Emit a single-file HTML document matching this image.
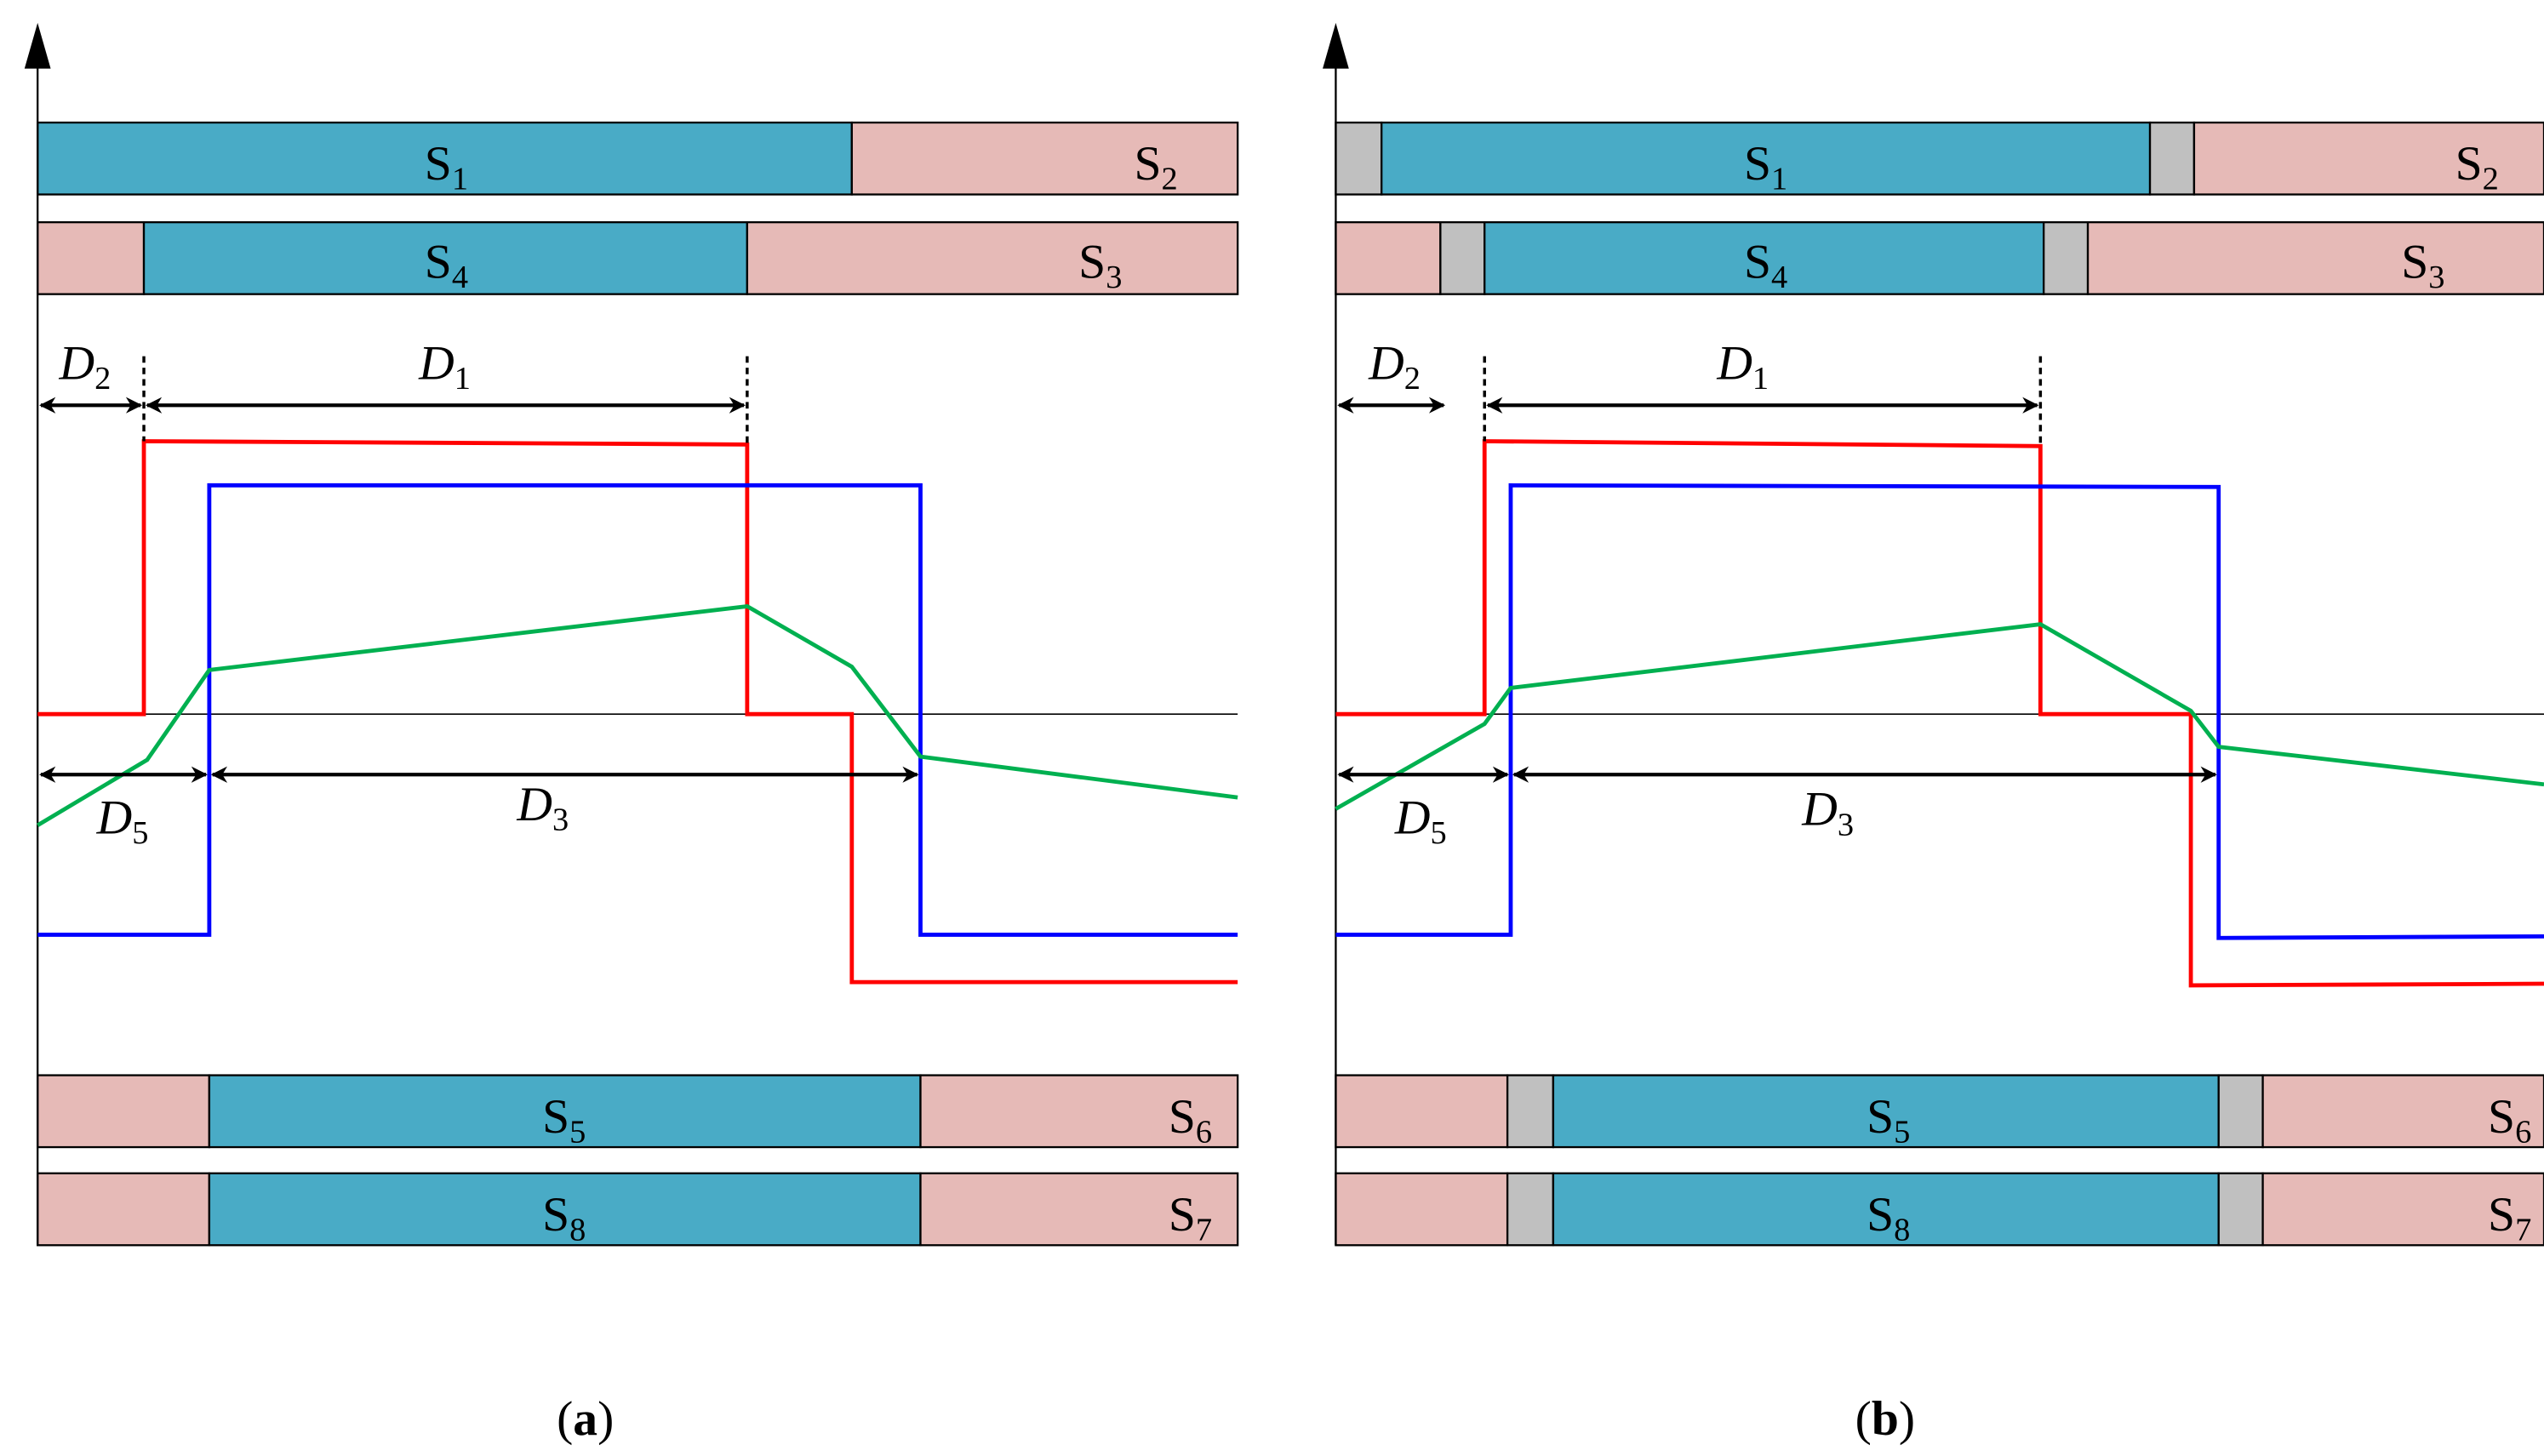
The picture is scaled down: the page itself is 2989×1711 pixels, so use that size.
<!DOCTYPE html>
<html><head><meta charset="utf-8"><style>html,body{margin:0;padding:0;background:#fff}svg{display:block}</style></head><body>
<svg width="2989" height="1711" viewBox="0 0 1556 891" preserveAspectRatio="none" xmlns="http://www.w3.org/2000/svg" font-family="Liberation Serif, serif">
<defs>
<marker id="ah" markerWidth="10" markerHeight="10" refX="9" refY="5" orient="auto-start-reverse" markerUnits="userSpaceOnUse"><path d="M0,0 L10,5 L0,10 L3,5 z" fill="#000"/></marker>
</defs>
<g stroke="#000" stroke-width="1.2">
<!-- Panel a bars -->
<rect x="23" y="75" width="498" height="44" fill="#49abc6"/><rect x="521" y="75" width="236" height="44" fill="#e6bab7"/>
<rect x="23" y="136" width="65" height="44" fill="#e6bab7"/><rect x="88" y="136" width="369" height="44" fill="#49abc6"/><rect x="457" y="136" width="300" height="44" fill="#e6bab7"/>
<rect x="23" y="658" width="105" height="44" fill="#e6bab7"/><rect x="128" y="658" width="435" height="44" fill="#49abc6"/><rect x="563" y="658" width="194" height="44" fill="#e6bab7"/>
<rect x="23" y="718" width="105" height="44" fill="#e6bab7"/><rect x="128" y="718" width="435" height="44" fill="#49abc6"/><rect x="563" y="718" width="194" height="44" fill="#e6bab7"/>
<!-- Panel b bars -->
<rect x="817" y="75" width="28" height="44" fill="#c0c0c0"/><rect x="845" y="75" width="470" height="44" fill="#49abc6"/><rect x="1315" y="75" width="27" height="44" fill="#c0c0c0"/><rect x="1342" y="75" width="214" height="44" fill="#e6bab7"/>
<rect x="817" y="136" width="64" height="44" fill="#e6bab7"/><rect x="881" y="136" width="27" height="44" fill="#c0c0c0"/><rect x="908" y="136" width="342" height="44" fill="#49abc6"/><rect x="1250" y="136" width="27" height="44" fill="#c0c0c0"/><rect x="1277" y="136" width="279" height="44" fill="#e6bab7"/>
<rect x="817" y="658" width="105" height="44" fill="#e6bab7"/><rect x="922" y="658" width="28" height="44" fill="#c0c0c0"/><rect x="950" y="658" width="407" height="44" fill="#49abc6"/><rect x="1357" y="658" width="27" height="44" fill="#c0c0c0"/><rect x="1384" y="658" width="172" height="44" fill="#e6bab7"/>
<rect x="817" y="718" width="105" height="44" fill="#e6bab7"/><rect x="922" y="718" width="28" height="44" fill="#c0c0c0"/><rect x="950" y="718" width="407" height="44" fill="#49abc6"/><rect x="1357" y="718" width="27" height="44" fill="#c0c0c0"/><rect x="1384" y="718" width="172" height="44" fill="#e6bab7"/>
</g>
<!-- axes -->
<g stroke="#000" stroke-width="1.2" fill="none">
<line x1="23" y1="30" x2="23" y2="762"/><line x1="817" y1="30" x2="817" y2="762"/>
<line x1="23" y1="437" x2="757" y2="437" stroke-width="0.8"/><line x1="817" y1="437" x2="1556" y2="437" stroke-width="0.8"/>
</g>
<path d="M23,14 L15,42 L31,42 z" fill="#000"/><path d="M817,14 L809,42 L825,42 z" fill="#000"/>
<!-- waveforms a -->
<g fill="none" stroke-width="2.5">
<polyline stroke="#f00" points="23,437 88,437 88,270 457,272 457,437 521,437 521,601 757,601"/>
<polyline stroke="#00f" points="23,572 128,572 128,297 563,297 563,572 757,572"/>
<polyline stroke="#00b050" points="23,505 90,465 128,410 457,371 521,408 563,463 757,488"/>
<polyline stroke="#f00" points="817,437 908,437 908,270 1248,273 1248,437 1340,437 1340,603 1556,602"/>
<polyline stroke="#00f" points="817,572 924,572 924,297 1357,298 1357,574 1556,573"/>
<polyline stroke="#00b050" points="817,495 908,443 924,421 1248,382 1340,435 1357,457 1556,480"/>
</g>
<!-- dimension arrows -->
<g stroke="#000" stroke-width="2.2" fill="none">
<line x1="88" y1="218" x2="88" y2="270" stroke-dasharray="4,3" stroke-width="1.8"/>
<line x1="457" y1="218" x2="457" y2="272" stroke-dasharray="4,3" stroke-width="1.8"/>
<line x1="908" y1="218" x2="908" y2="270" stroke-dasharray="4,3" stroke-width="1.8"/>
<line x1="1248" y1="218" x2="1248" y2="272" stroke-dasharray="4,3" stroke-width="1.8"/>
<line x1="25" y1="248" x2="86" y2="248" marker-start="url(#ah)" marker-end="url(#ah)"/>
<line x1="90" y1="248" x2="455" y2="248" marker-start="url(#ah)" marker-end="url(#ah)"/>
<line x1="819" y1="248" x2="883" y2="248" marker-start="url(#ah)" marker-end="url(#ah)"/>
<line x1="910" y1="248" x2="1246" y2="248" marker-start="url(#ah)" marker-end="url(#ah)"/>
<line x1="25" y1="474" x2="126" y2="474" marker-start="url(#ah)" marker-end="url(#ah)"/>
<line x1="130" y1="474" x2="561" y2="474" marker-start="url(#ah)" marker-end="url(#ah)"/>
<line x1="819" y1="474" x2="922" y2="474" marker-start="url(#ah)" marker-end="url(#ah)"/>
<line x1="926" y1="474" x2="1355" y2="474" marker-start="url(#ah)" marker-end="url(#ah)"/>
</g>
<!-- labels -->
<g font-size="30" fill="#000" text-anchor="middle">
<text x="273" y="110">S<tspan font-size="20" dy="6">1</tspan></text>
<text x="707" y="110">S<tspan font-size="20" dy="6">2</tspan></text>
<text x="273" y="170">S<tspan font-size="20" dy="6">4</tspan></text>
<text x="673" y="170">S<tspan font-size="20" dy="6">3</tspan></text>
<text x="345" y="693">S<tspan font-size="20" dy="6">5</tspan></text>
<text x="728" y="693">S<tspan font-size="20" dy="6">6</tspan></text>
<text x="345" y="753">S<tspan font-size="20" dy="6">8</tspan></text>
<text x="728" y="753">S<tspan font-size="20" dy="6">7</tspan></text>
<text x="1080" y="110">S<tspan font-size="20" dy="6">1</tspan></text>
<text x="1515" y="110">S<tspan font-size="20" dy="6">2</tspan></text>
<text x="1080" y="170">S<tspan font-size="20" dy="6">4</tspan></text>
<text x="1482" y="170">S<tspan font-size="20" dy="6">3</tspan></text>
<text x="1155" y="693">S<tspan font-size="20" dy="6">5</tspan></text>
<text x="1535" y="693">S<tspan font-size="20" dy="6">6</tspan></text>
<text x="1155" y="753">S<tspan font-size="20" dy="6">8</tspan></text>
<text x="1535" y="753">S<tspan font-size="20" dy="6">7</tspan></text>
<g font-style="italic">
<text x="52" y="232">D<tspan font-size="20" dy="6" font-style="normal">2</tspan></text>
<text x="272" y="232">D<tspan font-size="20" dy="6" font-style="normal">1</tspan></text>
<text x="75" y="510">D<tspan font-size="20" dy="6" font-style="normal">5</tspan></text>
<text x="332" y="502">D<tspan font-size="20" dy="6" font-style="normal">3</tspan></text>
<text x="853" y="232">D<tspan font-size="20" dy="6" font-style="normal">2</tspan></text>
<text x="1066" y="232">D<tspan font-size="20" dy="6" font-style="normal">1</tspan></text>
<text x="869" y="510">D<tspan font-size="20" dy="6" font-style="normal">5</tspan></text>
<text x="1118" y="505">D<tspan font-size="20" dy="6" font-style="normal">3</tspan></text>
</g>
<text x="358" y="878">(<tspan font-weight="bold">a</tspan>)</text>
<text x="1153" y="878">(<tspan font-weight="bold">b</tspan>)</text>
</g>
</svg>
</body></html>
